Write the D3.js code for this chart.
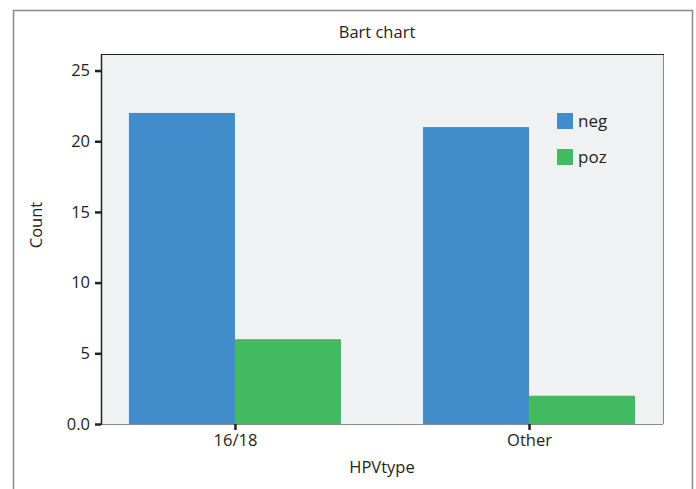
<!DOCTYPE html>
<html><head><meta charset="utf-8">
<script src="https://cdn.jsdelivr.net/npm/d3@7"></script>
<style>body{margin:0;background:#fff}svg{display:block;font-family:"Open Sans","Noto Sans",sans-serif}</style>
</head><body>
<svg id="c" width="696" height="489"></svg>
<script>
const categories = ["16/18", "Other"];
const seriesNames = ["neg", "poz"];
const negValues = [22, 21];
const pozValues = [6, 2];
const yTicks = [0, 5, 10, 15, 20, 25];
const yTickLabels = ["0.0", "5", "10", "15", "20", "25"];
const colors = {neg: "#418ccb", poz: "#42ba61"};
const FS = 16.5;

const svg = d3.select("#c");
const L = 101, R = 663, T = 54, B = 424;

// outer frame
svg.append("rect").attr("x", 13.5).attr("y", 10.5).attr("width", 679).attr("height", 500)
  .attr("fill", "none").attr("stroke", "#8a8a8a").attr("stroke-width", 1.5);

const x0 = d3.scaleBand().domain(categories).range([L, R]).paddingInner(0.279).paddingOuter(0.095);
const x1 = d3.scaleBand().domain(seriesNames).range([0, x0.bandwidth()]);
const y = d3.scaleLinear().domain([0, 26.17]).range([B, T]);

svg.append("rect").attr("x", L).attr("y", T).attr("width", R - L).attr("height", B - T).attr("fill", "#f0f1f3");
svg.append("line").attr("x1", R + 0.5).attr("x2", R + 0.5).attr("y1", T).attr("y2", B).attr("stroke", "#8a8a8a");
svg.append("line").attr("x1", L).attr("x2", R).attr("y1", B + 0.5).attr("y2", B + 0.5).attr("stroke", "#8a8a8a");

const data = categories.map((c, i) => ({cat: c, vals: [{k: "neg", v: negValues[i]}, {k: "poz", v: pozValues[i]}]}));
const g = svg.append("g");
data.forEach(d => {
  g.selectAll(null).data(d.vals).enter().append("rect")
    .attr("x", v => x0(d.cat) + x1(v.k))
    .attr("width", x1.bandwidth())
    .attr("y", v => y(v.v))
    .attr("height", v => B - y(v.v))
    .attr("fill", v => colors[v.k]);
});

svg.append("line").attr("x1", L).attr("x2", R + 1).attr("y1", T + 0.5).attr("y2", T + 0.5).attr("stroke", "#222");

// y axis
const yAxis = d3.axisLeft(y).tickValues(yTicks).tickFormat((d, i) => yTickLabels[i]).tickSize(6).tickSizeOuter(0).tickPadding(5);
const ya = svg.append("g").attr("transform", `translate(${L},0)`).call(yAxis);
ya.attr("font-size", FS).attr("font-family", null);
ya.select(".domain").attr("stroke", "#222").attr("stroke-width", 1.5).attr("d", `M0.5,${T}V${B + 1}`);
ya.selectAll(".tick line").attr("stroke", "#222").attr("stroke-width", 2.5);
ya.selectAll(".tick text").attr("fill", "#231f20");

// x axis
const xPos = d3.scalePoint().domain(categories).range(categories.map(c => x0(c) + x0.bandwidth() / 2));
const xAxis = d3.axisBottom(xPos).tickSize(6).tickSizeOuter(0).tickPadding(4);
const xa = svg.append("g").attr("transform", `translate(0,${B})`).call(xAxis);
xa.attr("font-size", FS).attr("font-family", null);
xa.select(".domain").remove();
xa.selectAll(".tick line").attr("stroke", "#222").attr("stroke-width", 2.5);
xa.selectAll(".tick text").attr("fill", "#231f20");

// titles
svg.append("text").attr("x", 377).attr("y", 38).attr("text-anchor", "middle").attr("font-size", FS).attr("fill", "#231f20").text("Bart chart");
svg.append("text").attr("x", 382).attr("y", 473).attr("text-anchor", "middle").attr("font-size", FS).attr("fill", "#231f20").text("HPVtype");
svg.append("text").attr("transform", "translate(42,225) rotate(-90)").attr("text-anchor", "middle").attr("font-size", FS).attr("fill", "#231f20").text("Count");

// legend
const leg = svg.append("g");
seriesNames.forEach((s, i) => {
  leg.append("rect").attr("x", 557).attr("y", 113 + i * 36).attr("width", 16).attr("height", 16).attr("fill", colors[s]);
  leg.append("text").attr("x", 578).attr("y", 127 + i * 36).attr("font-size", 17).attr("fill", "#231f20").text(s);
});
</script>
</body></html>
